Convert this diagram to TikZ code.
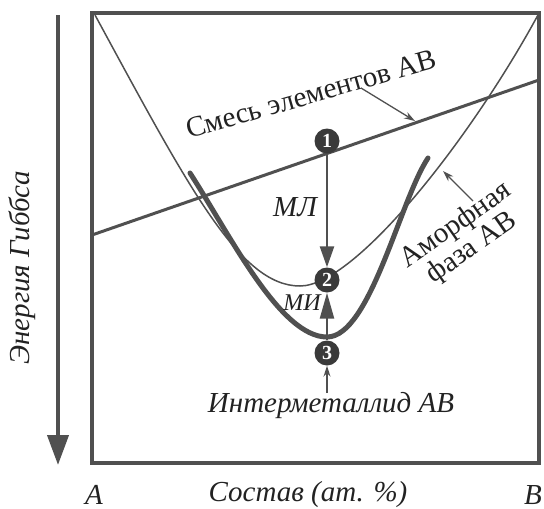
\documentclass[tikz,border=0pt]{standalone}
\usepackage{fontspec}
\setmainfont{Liberation Serif}
\usetikzlibrary{arrows.meta}
\definecolor{lg}{HTML}{505050}
\definecolor{cg}{HTML}{3A3A3A}
\definecolor{tg}{HTML}{222222}
\begin{document}
\begin{tikzpicture}[x=1pt,y=-1pt,
  txt/.style={font=\fontsize{29}{28}\selectfont\itshape, text=tg, inner sep=0pt},
  rtxt/.style={font=\fontsize{29}{28}\selectfont, text=tg, inner sep=0pt},
  num/.style={circle, fill=cg, minimum size=25pt, inner sep=0pt, text=white, font=\fontsize{20}{20}\selectfont\bfseries},
  thinarrow/.style={draw=lg, line width=1.3pt, -{Stealth[length=11pt,width=7pt]}},
  bigarrow/.style={draw=lg, line width=2.5pt},
  curvethin/.style={draw=lg, line width=1.5pt},
  curvethick/.style={draw=lg, line width=5pt, line cap=round},
  frame/.style={draw=lg, line width=4pt}]
\useasboundingbox (0,0) rectangle (544,509);
% axis arrow
\coordinate (ytop) at (58,15);
\coordinate (ybot) at (58,465);
\draw[draw=lg, line width=4pt, -{Triangle[length=30pt,width=21pt]}] (ytop) -- (ybot);
\node[txt, rotate=90] (ylab) at (22,268) {Энергия Гиббса};
% frame
\draw[frame] (92,13) rectangle (539,463);
% mixture line
\coordinate (ml0) at (92,235);
\coordinate (ml1) at (539,80);
\draw[draw=lg, line width=3pt] (ml0) -- (ml1);
% amorphous curve
\draw[curvethin] (95,15) .. controls (190,190) and (240,286) .. (300,286)
  .. controls (355,286) and (470,140) .. (538,15);
% intermetallic curve
\draw[curvethick] (190,173) .. controls (230,235) and (280,337) .. (327,337)
  .. controls (370,337) and (400,200) .. (428,158);
% state circles
\node[num] (c1) at (327,141) {1};
\node[num] (c2) at (327,280) {2};
\node[num] (c3) at (327,353) {3};
\draw[bigarrow, -{Triangle[length=21pt,width=14pt]}] (c1) -- (c2);
\draw[bigarrow, -{Triangle[length=26pt,width=14pt]}] (c3) -- (c2);
\node[txt] (mlab) at (295,207) {МЛ};
\node[txt, font=\fontsize{24}{24}\selectfont\itshape] (milab) at (302,303) {МИ};
% labels
\node[rtxt, rotate=16] (mix) at (311,94) {Смесь элементов АВ};
\coordinate (mixa) at (361,88);
\coordinate (mixb) at (415,121);
\draw[thinarrow] (mixa) -- (mixb);
\node[rtxt, rotate=35, align=center] (amo) at (464,237) {Аморфная\\фаза АВ};
\coordinate (amoa) at (473,201);
\coordinate (amob) at (443,171);
\draw[thinarrow] (amoa) -- (amob);
\node[txt] (inter) at (331,406) {Интерметаллид АВ};
\coordinate (intera) at (327,393);
\draw[thinarrow] (intera) -- (c3);
% axis labels
\node[txt] (xa) at (94,495) {A};
\node[txt] (xlab) at (308,495) {Состав (ат. \%)};
\node[txt] (xb) at (533,495) {B};
\end{tikzpicture}
\end{document}
